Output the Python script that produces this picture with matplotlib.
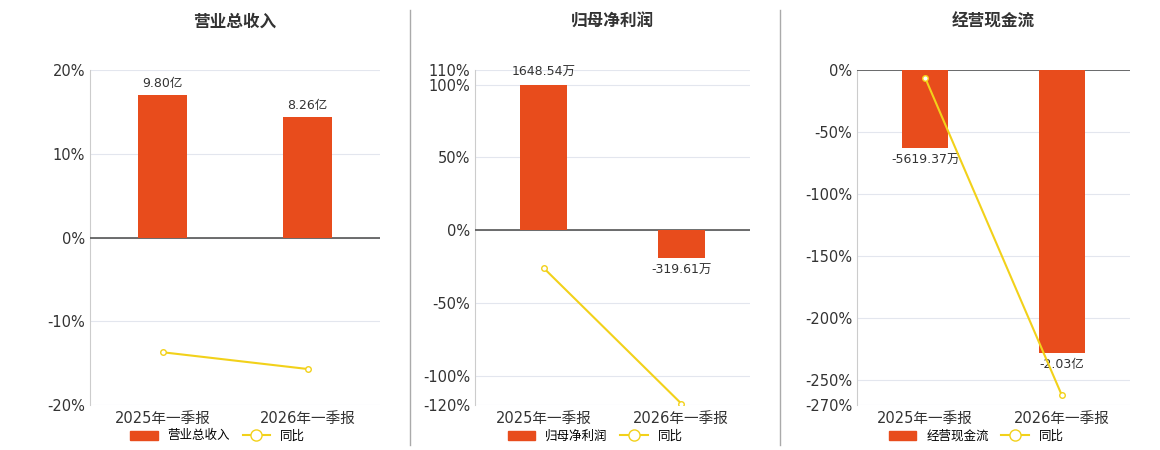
import matplotlib.pyplot as plt
from matplotlib.lines import Line2D
from matplotlib.patches import Patch

plt.rcParams['font.family'] = ['DejaVu Sans', 'Noto Sans CJK SC']

periods = ['2025年一季报', '2026年一季报']
titles = ['营业总收入', '归母净利润', '经营现金流']
bar_vals = [[9.80, 8.26], [1648.54, -319.61], [-5619.37, -20300.0]]
bar_labels = [['9.80亿', '8.26亿'], ['1648.54万', '-319.61万'], ['-5619.37万', '-2.03亿']]
yoy = [[-13.7, -15.7], [-26.0, -119.0], [-6.5, -262.0]]
yticks = [[-20, -10, 0, 10, 20], [-120, -100, -50, 0, 50, 100, 110],
          [-270, -250, -200, -150, -100, -50, 0]]
# bar scale: value per 1% on the left axis
bar_scale = [9.80 / 17.0, 1648.54 / 100.0, 20300.0 / 228.0]

BAR = '#e84c1c'
LINE = '#f2d11a'

fig = plt.figure(figsize=(11.6, 4.5), dpi=100)
lefts = [90, 475, 857]
rights = [380, 750, 1130]
W, H = 1160, 450
for i in range(3):
    ax = fig.add_axes([lefts[i] / W, 1 - 405 / H, (rights[i] - lefts[i]) / W, 335 / H])
    lo, hi = yticks[i][0], yticks[i][-1]
    ax.set_ylim(lo, hi)
    ax.set_xlim(-0.5, 1.5)
    ax.set_yticks(yticks[i])
    ax.set_yticklabels([f'{t}%' for t in yticks[i]], fontsize=10.5, color='#333333')
    ax.grid(axis='y', color='#e3e6ee', lw=0.8)
    ax.set_axisbelow(True)
    for s in ['top', 'right', 'bottom']:
        ax.spines[s].set_visible(False)
    ax.spines['left'].set_color('#cccccc')
    ax.axhline(0, color='#555555', lw=1.2, zorder=3)
    ax.set_xticks([0, 1])
    ax.set_xticklabels(periods, fontsize=10.5, color='#333333')
    ax.tick_params(axis='x', length=0, pad=4)
    ax.tick_params(axis='y', length=0)

    tw = ax.twinx()
    tw.set_ylim(lo * bar_scale[i], hi * bar_scale[i])
    tw.axis('off')
    bars = tw.bar([0, 1], bar_vals[i], width=0.34, color=BAR, zorder=2)
    for b, v, lab in zip(bars, bar_vals[i], bar_labels[i]):
        off = 4 if v > 0 else -4
        tw.annotate(lab, (b.get_x() + b.get_width() / 2, v), xytext=(0, off),
                    textcoords='offset points', ha='center',
                    va='bottom' if v > 0 else 'top', fontsize=9, color='#333333')
    tw.plot([0, 1], [y * bar_scale[i] for y in yoy[i]], color=LINE, lw=1.5,
            marker='o', ms=4, mfc='white', mec=LINE, zorder=4)

    fig.text((lefts[i] + rights[i]) / 2 / W, 1 - 22 / H, titles[i], ha='center',
             va='center', fontsize=12, fontweight='bold', color='#333333')
    handles = [Patch(color=BAR), Line2D([], [], color=LINE, marker='o', mfc='white', ms=8)]
    fig.legend(handles, [titles[i], '同比'], loc='center',
               bbox_to_anchor=((lefts[i] + rights[i]) / 2 / W - 0.015, 1 - 436 / H),
               ncol=2, frameon=False, fontsize=9, handlelength=2.2, columnspacing=1.0)

for x in [410, 780]:
    fig.add_artist(Line2D([x / W, x / W], [1 - 445 / H, 1 - 10 / H], color='#aaaaaa', lw=1))

plt.savefig('out.png')
